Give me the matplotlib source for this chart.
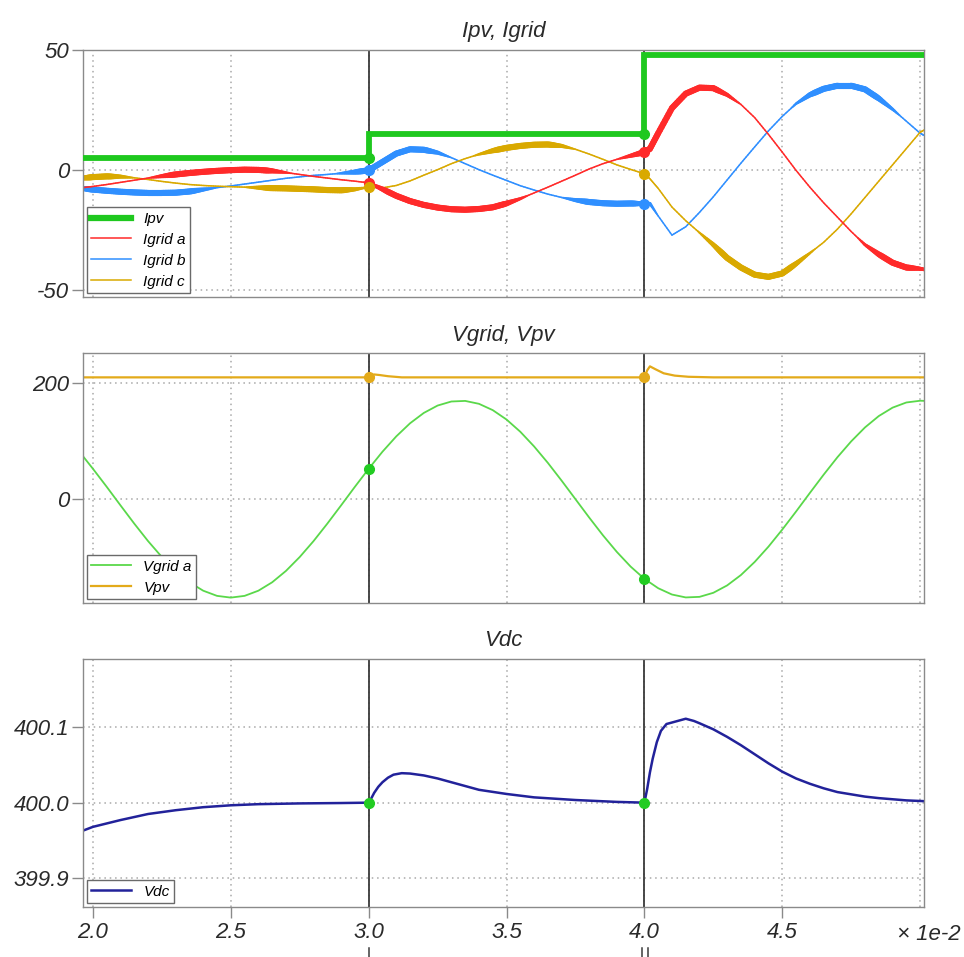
import numpy as np
import matplotlib
matplotlib.use('Agg')
import matplotlib.pyplot as plt
from matplotlib.collections import LineCollection
from matplotlib.lines import Line2D

# time axis in units of 1e-2 s
t_cur = [1.964, 2.00, 2.05, 2.10, 2.15, 2.20, 2.25, 2.30, 2.35, 2.40, 2.45, 2.50,
         2.55, 2.60, 2.65, 2.70, 2.75, 2.80, 2.85, 2.90, 2.95, 3.00,
         3.05, 3.10, 3.15, 3.20, 3.25, 3.30, 3.35, 3.40, 3.45, 3.50,
         3.55, 3.60, 3.65, 3.70, 3.75, 3.80, 3.85, 3.90, 3.95, 4.00, 4.02,
         4.05, 4.10, 4.15, 4.20, 4.25, 4.30, 4.35, 4.40, 4.45, 4.50,
         4.55, 4.60, 4.65, 4.70, 4.75, 4.80, 4.85, 4.90, 4.95, 5.00, 5.014]

igrid_a = [-7.2, -6.7, -5.9, -5.0, -4.1, -3.2, -2.4, -1.7, -1.1, -0.6, -0.2, 0.1,
           0.3, 0.2, -0.2, -0.9, -1.7, -2.5, -3.2, -3.9, -4.5, -5.2,
           -7.8, -10.6, -12.8, -14.4, -15.5, -16.2, -16.4, -16.1, -15.4, -13.8,
           -11.8, -9.4, -7.0, -4.5, -2.0, 0.6, 2.8, 4.6, 6.1, 7.6, 9.0,
           15.5, 26.0, 32.0, 34.5, 34.3, 31.5, 27.5, 22.0, 15.0, 7.6,
           0.0, -7.0, -13.5, -19.5, -25.5, -31.0, -35.0, -38.5, -40.5, -41.0, -41.0]

igrid_b = [-7.6, -8.0, -8.5, -8.9, -9.2, -9.4, -9.4, -9.3, -8.8, -8.0, -7.2, -6.5,
           -5.7, -4.9, -4.1, -3.3, -2.7, -2.1, -1.7, -1.2, -0.7, 0.0,
           3.5, 7.0, 8.8, 8.6, 7.4, 5.3, 2.8, 0.3, -2.0, -4.2,
           -6.4, -8.2, -9.9, -11.3, -12.4, -13.2, -13.7, -13.9, -13.8, -13.9, -13.8,
           -19.0, -27.0, -23.5, -17.5, -11.0, -4.0, 3.0, 9.8, 16.5, 22.5,
           27.8, 31.5, 34.0, 35.3, 35.3, 33.8, 30.0, 25.5, 20.5, 15.5, 14.6]

igrid_c = [-3.2, -2.8, -2.5, -2.6, -3.1, -3.8, -4.6, -5.3, -5.9, -6.3, -6.6, -6.8,
           -7.0, -7.2, -7.4, -7.5, -7.7, -7.9, -8.2, -8.3, -7.9, -7.0,
           -7.3, -6.3, -4.4, -2.0, 0.3, 2.8, 4.9, 6.7, 8.2, 9.4,
           10.2, 10.7, 10.8, 10.2, 8.8, 6.8, 4.6, 2.3, 0.4, -1.4, -3.5,
           -7.5, -15.3, -21.0, -26.0, -31.0, -36.5, -40.5, -43.5, -44.4, -43.0,
           -38.9, -34.5, -30.0, -24.5, -18.1, -11.3, -4.5, 2.3, 9.1, 15.9, 16.8]

ipv_t = [1.964, 3.0, 4.0, 5.014]
ipv = [5, 15, 48, 48]

t_v = [1.964, 2.00, 2.05, 2.10, 2.15, 2.20, 2.25, 2.30, 2.35, 2.40, 2.45, 2.50,
       2.55, 2.60, 2.65, 2.70, 2.75, 2.80, 2.85, 2.90, 2.95, 3.00,
       3.05, 3.10, 3.15, 3.20, 3.25, 3.30, 3.35, 3.40, 3.45, 3.50,
       3.55, 3.60, 3.65, 3.70, 3.75, 3.80, 3.85, 3.90, 3.95, 4.00,
       4.05, 4.10, 4.15, 4.20, 4.25, 4.30, 4.35, 4.40, 4.45, 4.50,
       4.55, 4.60, 4.65, 4.70, 4.75, 4.80, 4.85, 4.90, 4.95, 5.00, 5.014]
vgrid_a = [74.0, 52.4, 21.3, -10.7, -42.2, -72.3, -99.7, -123.7, -143.3, -157.8, -166.7, -169.7,
           -166.7, -157.8, -143.3, -123.7, -99.7, -72.3, -42.2, -10.7, 21.3, 52.4,
           81.8, 108.2, 130.8, 148.7, 161.4, 168.4, 169.4, 164.4, 153.5, 137.3,
           116.2, 90.9, 62.5, 31.8, 0.0, -31.8, -62.5, -90.9, -116.2, -137.3,
           -153.5, -164.4, -169.4, -168.4, -161.4, -148.7, -130.8, -108.2, -81.8, -52.4,
           -21.3, 10.7, 42.2, 72.3, 99.7, 123.7, 143.3, 157.8, 166.7, 169.7, 169.5]

t_vpv = [1.964, 3.0, 3.02, 3.04, 3.07, 3.12, 4.0, 4.01, 4.02, 4.04, 4.07, 4.11, 4.16, 4.25, 5.014]
vpv = [210, 210, 215, 214, 212, 210, 210, 222, 229, 224, 217, 213, 211, 210, 210]

t_vdc = [1.964, 2.0, 2.1, 2.2, 2.3, 2.4, 2.5, 2.6, 2.75, 2.9, 3.0, 3.01, 3.02, 3.035, 3.05,
         3.07, 3.09, 3.12, 3.15, 3.2, 3.25, 3.3, 3.35, 3.4, 3.5, 3.6, 3.75, 3.9, 4.0,
         4.01, 4.02, 4.03, 4.045, 4.06, 4.08, 4.1, 4.13, 4.15, 4.18, 4.2, 4.25, 4.3,
         4.35, 4.4, 4.45, 4.5, 4.55, 4.6, 4.65, 4.7, 4.75, 4.8, 4.85, 4.9, 4.95, 5.014]
vdc = [399.963, 399.968, 399.977, 399.985, 399.990, 399.994, 399.9965, 399.998, 399.999,
       399.9995, 400.000, 400.006, 400.013, 400.021, 400.027, 400.033, 400.037, 400.039,
       400.0385, 400.036, 400.032, 400.027, 400.022, 400.017, 400.0115, 400.007, 400.0035,
       400.001, 400.000,
       400.018, 400.040, 400.058, 400.080, 400.095, 400.104, 400.106, 400.109, 400.111,
       400.108, 400.105, 400.097, 400.087, 400.076, 400.064, 400.052, 400.041, 400.032,
       400.025, 400.019, 400.014, 400.011, 400.008, 400.006, 400.0045, 400.003, 400.002]

cursors = [3.0, 4.0]
x_ticks = [2.0, 2.5, 3.0, 3.5, 4.0, 4.5]
x_ticklabels = ['2.0', '2.5', '3.0', '3.5', '4.0', '4.5']

# ripple (thick) parts of the grid currents
spans_a = [(2.2, 2.72), (2.98, 3.58), (3.9, 4.35), (4.77, 5.05)]
spans_b = [(1.9, 2.45), (2.88, 3.3), (3.7, 4.05), (4.53, 4.93)]
spans_c = [(1.9, 2.15), (2.55, 3.0), (3.38, 3.75), (4.19, 4.62)]

GREEN = '#1ec81e'
RED = '#ff2a2a'
BLUE = '#2f8fff'
GOLD = '#d9a900'
VGRID = '#5ad84a'
VPV = '#e3aa1a'
VDC = '#22229a'
CURSOR = '#3a3a3a'
GRID = '#a8a8a8'
SPINE = '#8a8a8a'
TXT = '#2a2a2a'

plt.rcParams['font.family'] = ['Liberation Sans', 'DejaVu Sans']
plt.rcParams['font.style'] = 'italic'


def ripple_line(ax, t, y, color, spans, thin=1.1, thick=4.4, ramp=0.09, sub=8):
    t = np.asarray(t, float)
    y = np.asarray(y, float)
    # split every straight piece into short sub pieces so the width can change smoothly
    f = np.linspace(0, 1, sub + 1)
    ts = np.concatenate([t[i] + (t[i + 1] - t[i]) * f[:-1] for i in range(len(t) - 1)] + [t[-1:]])
    ys = np.concatenate([y[i] + (y[i + 1] - y[i]) * f[:-1] for i in range(len(y) - 1)] + [y[-1:]])
    pts = np.column_stack([ts, ys])
    segs = np.stack([pts[:-1], pts[1:]], axis=1)
    mid = 0.5 * (ts[:-1] + ts[1:])
    w = np.full(mid.size, thin)
    for a, b in spans:
        k = np.clip(np.minimum(mid - a, b - mid) / ramp, 0, 1)
        w = np.maximum(w, thin + (thick - thin) * k)
    lc = LineCollection(segs, colors=color, linewidths=w, capstyle='round',
                        joinstyle='round', zorder=2.5)
    ax.add_collection(lc)


def style_axes(ax, ylim, yticks, ylabels, title, show_x=False):
    ax.set_xlim(1.964, 5.014)
    ax.set_ylim(*ylim)
    ax.set_xticks(x_ticks)
    ax.set_yticks(yticks)
    ax.set_yticklabels(ylabels)
    ax.grid(True, ls=(0, (1, 2.5)), color=GRID, lw=1.1)
    ax.axvline(5.0, ls=(0, (1, 2.5)), color=GRID, lw=1.1, zorder=1.4)
    for s in ax.spines.values():
        s.set_color(SPINE)
        s.set_linewidth(1.0)
    ax.tick_params(axis='y', direction='out', length=8, width=1, color=SPINE,
                   labelsize=16, labelcolor=TXT, pad=2)
    if show_x:
        ax.set_xticklabels(x_ticklabels)
        ax.tick_params(axis='x', direction='out', length=8, width=1, color=SPINE,
                       labelsize=16, labelcolor=TXT, pad=3)
    else:
        ax.tick_params(axis='x', length=0, labelbottom=False)
    for c in cursors:
        ax.axvline(c, color=CURSOR, lw=1.3, zorder=1.8)
    ax.set_title(title, fontsize=16, color=TXT, pad=9)


def add_legend(ax, handles, labels):
    leg = ax.legend(handles, labels, loc='lower left', fontsize=11, frameon=True,
                    fancybox=False, edgecolor='#6a6a6a', framealpha=1,
                    borderaxespad=0.25, handlelength=2.6, handletextpad=0.8,
                    labelspacing=0.45, borderpad=0.3)
    leg.get_frame().set_linewidth(1.0)


fig = plt.figure(figsize=(9.64, 9.57), dpi=100)
left, width = 83 / 964, (924 - 83) / 964
ax1 = fig.add_axes([left, 1 - 297 / 957, width, 247 / 957])
ax2 = fig.add_axes([left, 1 - 603 / 957, width, 250 / 957])
ax3 = fig.add_axes([left, 1 - 907 / 957, width, 248 / 957])

# --- Ipv, Igrid
style_axes(ax1, (-52.8, 50.2), [-50, 0, 50], ['-50', '0', '50'], 'Ipv, Igrid')
ripple_line(ax1, t_cur, igrid_b, BLUE, spans_b)
ripple_line(ax1, t_cur, igrid_c, GOLD, spans_c)
ripple_line(ax1, t_cur, igrid_a, RED, spans_a)
ax1.plot(ipv_t, ipv, drawstyle='steps-post', color=GREEN, lw=4.2, zorder=3,
         solid_joinstyle='miter')
for c in cursors:
    i = np.searchsorted(ipv_t, c) - 1
    ax1.plot(c, ipv[i], 'o', color=GREEN, ms=7, zorder=4)
    for y, col in ((igrid_a, RED), (igrid_b, BLUE), (igrid_c, GOLD)):
        ax1.plot(c, np.interp(c, t_cur, y), 'o', color=col, ms=7, zorder=4)
add_legend(ax1,
           [Line2D([], [], color=GREEN, lw=4.5), Line2D([], [], color=RED, lw=1.1),
            Line2D([], [], color=BLUE, lw=1.1), Line2D([], [], color=GOLD, lw=1.1)],
           ['Ipv', 'Igrid a', 'Igrid b', 'Igrid c'])

# --- Vgrid, Vpv
style_axes(ax2, (-179, 252), [0, 200], ['0', '200'], 'Vgrid, Vpv')
ax2.plot(t_v, vgrid_a, color=VGRID, lw=1.3, zorder=2.5, label='Vgrid a')
ax2.plot(t_vpv, vpv, color=VPV, lw=1.6, zorder=2.5, label='Vpv')
for c in cursors:
    ax2.plot(c, np.interp(c, t_v, vgrid_a), 'o', color='#22cc22', ms=7, zorder=4)
    ax2.plot(c, np.interp(c, t_vpv, vpv), 'o', color=VPV, ms=7, zorder=4)
h, l = ax2.get_legend_handles_labels()
add_legend(ax2, h, l)

# --- Vdc
style_axes(ax3, (399.862, 400.190), [399.9, 400.0, 400.1],
           ['399.9', '400.0', '400.1'], 'Vdc', show_x=True)
ax3.plot(t_vdc, vdc, color=VDC, lw=1.8, zorder=2.5, label='Vdc')
for c in cursors:
    ax3.plot(c, np.interp(c, t_vdc, vdc), 'o', color='#22cc22', ms=7, zorder=4)
h, l = ax3.get_legend_handles_labels()
add_legend(ax3, h, l)

# cursor marks under the axis
xt = ax3.get_xaxis_transform()
for xc in (3.0, 3.99, 4.012):
    ax3.plot([xc, xc], [-0.165, -0.21], transform=xt, clip_on=False,
             color=CURSOR, lw=1.1)

fig.text(0.997, 1 - 935 / 957, '\u00d7 1e-2', ha='right', va='center',
         fontsize=16, color=TXT)

fig.savefig('out.png', dpi=100)
